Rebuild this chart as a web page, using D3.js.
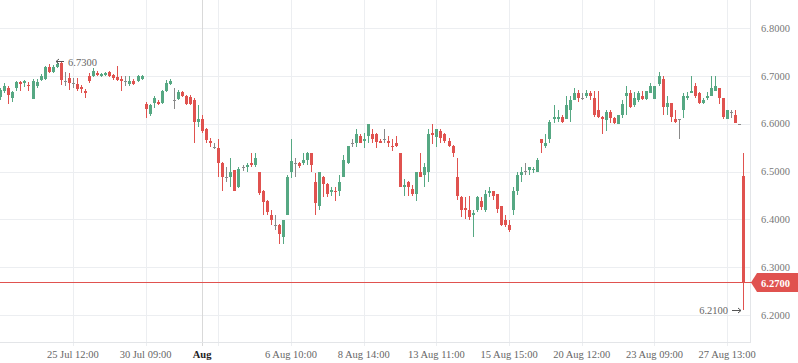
<!DOCTYPE html>
<html><head><meta charset="utf-8">
<script src="https://cdn.jsdelivr.net/npm/d3@7"></script>
<style>html,body{margin:0;padding:0;background:#fff;overflow:hidden}svg{display:block}</style>
</head><body><svg id="c" width="798" height="363"></svg>
<script>
const open = [6.656,6.669,6.675,6.654,6.675,6.687,6.685,6.681,6.652,6.679,
6.692,6.694,6.719,6.708,6.719,6.727,6.690,6.696,6.685,6.683,
6.677,6.669,6.700,6.700,6.707,6.700,6.702,6.708,6.702,6.698,
6.694,6.690,6.683,6.690,6.690,6.694,6.641,6.621,6.644,6.646,
6.644,6.669,6.683,6.650,6.652,6.667,6.658,6.656,6.650,6.604,
6.610,6.589,6.564,6.551,6.549,6.518,6.489,6.489,6.503,6.468,
6.510,6.510,6.518,6.514,6.499,6.459,6.439,6.409,6.388,6.388,
6.363,6.409,6.499,6.518,6.518,6.518,6.524,6.539,6.478,6.428,
6.489,6.474,6.457,6.459,6.459,6.489,6.518,6.560,6.560,6.575,
6.564,6.575,6.579,6.579,6.564,6.568,6.564,6.554,6.560,6.539,
6.468,6.478,6.464,6.453,6.499,6.493,6.499,6.581,6.572,6.585,
6.579,6.564,6.554,6.489,6.447,6.424,6.420,6.409,6.420,6.439,
6.420,6.455,6.459,6.453,6.428,6.399,6.388,6.420,6.459,6.493,
6.501,6.503,6.503,6.499,6.568,6.554,6.568,6.610,6.610,6.614,
6.610,6.629,6.650,6.664,6.654,6.658,6.664,6.654,6.629,6.614,
6.608,6.625,6.612,6.600,6.618,6.658,6.664,6.639,6.650,6.658,
6.652,6.664,6.652,6.683,6.694,6.635,6.644,6.610,6.610,6.629,
6.654,6.664,6.679,6.664,6.644,6.654,6.658,6.669,6.675,6.654,
6.610,6.625,6.618,6.600,6.490];
const high = [6.675,6.685,6.679,6.669,6.690,6.690,6.692,6.687,6.694,6.694,
6.704,6.721,6.725,6.723,6.730,6.729,6.708,6.706,6.696,6.696,
6.681,6.673,6.706,6.717,6.710,6.706,6.708,6.710,6.704,6.721,
6.700,6.700,6.700,6.694,6.702,6.702,6.646,6.641,6.658,6.650,
6.671,6.692,6.694,6.675,6.671,6.669,6.660,6.660,6.654,6.639,
6.618,6.591,6.570,6.560,6.568,6.520,6.510,6.529,6.503,6.510,
6.514,6.518,6.539,6.539,6.499,6.462,6.441,6.420,6.409,6.391,
6.399,6.493,6.568,6.529,6.520,6.539,6.541,6.539,6.497,6.499,
6.491,6.476,6.468,6.468,6.493,6.535,6.554,6.568,6.589,6.579,
6.581,6.600,6.589,6.581,6.568,6.589,6.575,6.568,6.575,6.539,
6.485,6.480,6.472,6.499,6.539,6.518,6.589,6.600,6.589,6.589,
6.581,6.570,6.556,6.529,6.449,6.447,6.449,6.420,6.449,6.447,
6.462,6.468,6.459,6.453,6.428,6.409,6.399,6.468,6.499,6.510,
6.518,6.510,6.510,6.529,6.568,6.579,6.608,6.639,6.629,6.618,
6.658,6.658,6.675,6.671,6.664,6.671,6.669,6.669,6.669,6.616,
6.629,6.629,6.614,6.618,6.650,6.679,6.671,6.667,6.669,6.669,
6.669,6.685,6.679,6.708,6.700,6.658,6.644,6.629,6.610,6.664,
6.667,6.700,6.685,6.667,6.654,6.667,6.700,6.700,6.675,6.654,
6.629,6.629,6.629,6.600,6.540];
const low = [6.650,6.664,6.641,6.646,6.669,6.669,6.677,6.669,6.652,6.675,
6.690,6.692,6.706,6.706,6.717,6.681,6.679,6.671,6.675,6.669,
6.664,6.654,6.685,6.698,6.700,6.698,6.700,6.698,6.692,6.690,
6.669,6.679,6.679,6.681,6.687,6.692,6.612,6.616,6.633,6.639,
6.641,6.667,6.681,6.631,6.650,6.656,6.639,6.639,6.560,6.593,
6.581,6.560,6.551,6.547,6.489,6.459,6.478,6.468,6.459,6.466,
6.501,6.499,6.510,6.510,6.451,6.409,6.409,6.388,6.378,6.349,
6.349,6.409,6.487,6.489,6.508,6.514,6.514,6.499,6.409,6.420,
6.447,6.447,6.449,6.439,6.449,6.489,6.516,6.551,6.551,6.560,
6.549,6.560,6.560,6.549,6.560,6.560,6.551,6.543,6.551,6.468,
6.449,6.449,6.449,6.439,6.489,6.468,6.478,6.558,6.551,6.560,
6.560,6.551,6.531,6.441,6.405,6.401,6.399,6.363,6.416,6.420,
6.416,6.447,6.441,6.413,6.386,6.384,6.374,6.409,6.451,6.478,
6.493,6.493,6.497,6.499,6.539,6.549,6.560,6.602,6.604,6.602,
6.610,6.604,6.650,6.646,6.650,6.654,6.650,6.614,6.612,6.579,
6.585,6.602,6.600,6.600,6.612,6.618,6.633,6.635,6.646,6.650,
6.650,6.664,6.652,6.679,6.618,6.618,6.604,6.602,6.568,6.612,
6.650,6.664,6.654,6.641,6.641,6.650,6.658,6.669,6.641,6.610,
6.610,6.612,6.602,6.600,6.210];
const close = [6.671,6.679,6.660,6.667,6.687,6.683,6.690,6.679,6.690,6.687,
6.700,6.719,6.708,6.719,6.725,6.692,6.690,6.685,6.685,6.673,
6.673,6.664,6.690,6.710,6.702,6.704,6.707,6.700,6.696,6.692,
6.690,6.690,6.690,6.683,6.700,6.700,6.631,6.639,6.654,6.641,
6.669,6.685,6.690,6.650,6.667,6.658,6.641,6.641,6.604,6.610,
6.585,6.566,6.560,6.551,6.518,6.489,6.489,6.499,6.459,6.505,
6.510,6.514,6.514,6.529,6.455,6.436,6.416,6.399,6.388,6.370,
6.399,6.489,6.522,6.518,6.512,6.524,6.539,6.514,6.434,6.499,
6.474,6.453,6.462,6.457,6.478,6.524,6.554,6.560,6.579,6.560,
6.568,6.600,6.568,6.562,6.560,6.568,6.560,6.551,6.554,6.468,
6.472,6.468,6.453,6.499,6.489,6.510,6.579,6.577,6.589,6.570,
6.564,6.554,6.539,6.449,6.420,6.420,6.405,6.413,6.447,6.426,
6.453,6.459,6.449,6.422,6.388,6.388,6.378,6.459,6.493,6.499,
6.501,6.510,6.505,6.524,6.560,6.560,6.604,6.614,6.614,6.604,
6.639,6.650,6.664,6.654,6.654,6.664,6.658,6.618,6.614,6.610,
6.625,6.612,6.602,6.618,6.641,6.664,6.635,6.654,6.664,6.652,
6.669,6.679,6.679,6.700,6.635,6.644,6.614,6.604,6.610,6.658,
6.658,6.669,6.658,6.644,6.650,6.658,6.675,6.679,6.654,6.614,
6.629,6.625,6.602,6.600,6.270];

const tickIndex  = [18, 36, 54, 72, 90, 108, 126, 144, 162, 180];
const tickLabels = ["25 Jul 12:00","30 Jul 09:00","","6 Aug 10:00","8 Aug 14:00","13 Aug 11:00","15 Aug 15:00","20 Aug 12:00","23 Aug 09:00","27 Aug 13:00"];
const monthIndex  = [50];
const monthLabels = ["Aug"];
const yTicks = [6.2, 6.3, 6.4, 6.5, 6.6, 6.7, 6.8];
const lastPrice = 6.27;

const W = 798, H = 363, plotW = 750, plotH = 342;
const GREEN = "#56a883", RED = "#e0524f", GRAY = "#8a8a8a";
const FONT = "'Liberation Serif','Times New Roman',serif";

const svg = d3.select("#c");
const n = open.length;
const x = d3.scaleLinear().domain([-0.05, n + 0.65]).range([0, plotW]);
const y = d3.scaleLinear().domain([6.2, 6.8]).range([315, 28.3]);

// grid
const g = svg.append("g");
g.selectAll("line.h").data(yTicks).join("line")
  .attr("x1", 0).attr("x2", plotW)
  .attr("y1", d => Math.round(y(d)) + 0.5).attr("y2", d => Math.round(y(d)) + 0.5)
  .attr("stroke", "#eceef1");
g.selectAll("line.v").data(tickIndex).join("line")
  .attr("x1", d => Math.round(x(d)) + 0.5).attr("x2", d => Math.round(x(d)) + 0.5)
  .attr("y1", 0).attr("y2", plotH + 4)
  .attr("stroke", "#eceef1");
g.selectAll("line.m").data(monthIndex).join("line")
  .attr("x1", d => Math.round(x(d)) + 0.5).attr("x2", d => Math.round(x(d)) + 0.5)
  .attr("y1", 0).attr("y2", plotH + 4)
  .attr("stroke", "#d9d9d9");
g.append("line").attr("x1", plotW + 0.5).attr("x2", plotW + 0.5).attr("y1", 0).attr("y2", plotH + 1)
  .attr("stroke", "#e3e5e8");
g.append("line").attr("x1", 0).attr("x2", plotW + 1).attr("y1", plotH + 0.5).attr("y2", plotH + 0.5)
  .attr("stroke", "#e3e5e8");

// candles
const idx = d3.range(n);
const col = i => close[i] > open[i] ? GREEN : (close[i] < open[i] ? RED : GRAY);
const cg = svg.append("g");
cg.selectAll("rect.w").data(idx).join("rect")
  .attr("x", i => Math.round(x(i)))
  .attr("width", 1)
  .attr("y", i => Math.round(y(high[i])))
  .attr("height", i => Math.max(1, Math.round(y(low[i])) - Math.round(y(high[i]))))
  .attr("fill", col);
cg.selectAll("rect.b").data(idx).join("rect")
  .attr("x", i => Math.round(x(i)) - 1)
  .attr("width", 3)
  .attr("y", i => Math.round(y(Math.max(open[i], close[i]))))
  .attr("height", i => Math.max(1, Math.round(y(Math.min(open[i], close[i]))) - Math.round(y(Math.max(open[i], close[i])))))
  .attr("fill", col);

// last price line
const yl = Math.round(y(lastPrice)) + 0.5;
svg.append("line").attr("x1", 0).attr("x2", plotW + 2).attr("y1", yl).attr("y2", yl)
  .attr("stroke", RED).attr("stroke-width", 1);

// high / low annotations with drawn arrows
const iMax = d3.maxIndex(high), iMin = d3.minIndex(low);
const hx = Math.round(x(iMax)) - 1, hy = Math.round(y(high[iMax])) - 0.5;
svg.append("path")
  .attr("d", `M${hx},${hy} H${hx + 8} M${hx},${hy} l3,-2.5 M${hx},${hy} l3,2.5`)
  .attr("stroke", "#555").attr("fill", "none").attr("stroke-width", 1);
svg.append("text").attr("x", hx + 12).attr("y", y(high[iMax]) + 4)
  .attr("font-family", FONT).attr("font-size", 10.5).attr("fill", "#666")
  .text(high[iMax].toFixed(4));
const lx = Math.round(x(iMin)) - 2, ly = Math.round(y(low[iMin])) + 0.5;
svg.append("path")
  .attr("d", `M${lx},${ly} H${lx - 9} M${lx},${ly} l-3,-2.5 M${lx},${ly} l-3,2.5`)
  .attr("stroke", "#555").attr("fill", "none").attr("stroke-width", 1);
svg.append("text").attr("x", lx - 13).attr("y", y(low[iMin]) + 4)
  .attr("text-anchor", "end")
  .attr("font-family", FONT).attr("font-size", 10.5).attr("fill", "#666")
  .text(low[iMin].toFixed(4));

// y labels
svg.selectAll("text.yl").data(yTicks).join("text")
  .attr("x", 761).attr("y", d => y(d) + 3.5)
  .attr("font-family", FONT).attr("font-size", 10.5).attr("fill", "#777")
  .text(d => d.toFixed(4));

// price box
const bx = 751, bt = Math.round(y(lastPrice)) - 9, bb = Math.round(y(lastPrice)) + 10;
svg.append("path")
  .attr("d", `M${bx},${(bt + bb) / 2} L${bx + 6},${bt} L${W},${bt} L${W},${bb} L${bx + 6},${bb} Z`)
  .attr("fill", RED);
svg.append("text").attr("x", 761).attr("y", (bt + bb) / 2 + 4)
  .attr("font-family", FONT).attr("font-size", 10.5).attr("font-weight", "bold").attr("fill", "#fff")
  .text(lastPrice.toFixed(4));

// x labels
svg.selectAll("text.xl").data(tickIndex).join("text")
  .attr("x", d => x(d)).attr("y", 358).attr("text-anchor", "middle")
  .attr("font-family", FONT).attr("font-size", 10.5).attr("fill", "#666")
  .text((d, i) => tickLabels[i]);
svg.selectAll("text.ml").data(monthIndex).join("text")
  .attr("x", d => x(d)).attr("y", 358).attr("text-anchor", "middle")
  .attr("font-family", FONT).attr("font-size", 10.5).attr("font-weight", "bold").attr("fill", "#222")
  .text((d, i) => monthLabels[i]);
</script></body></html>
